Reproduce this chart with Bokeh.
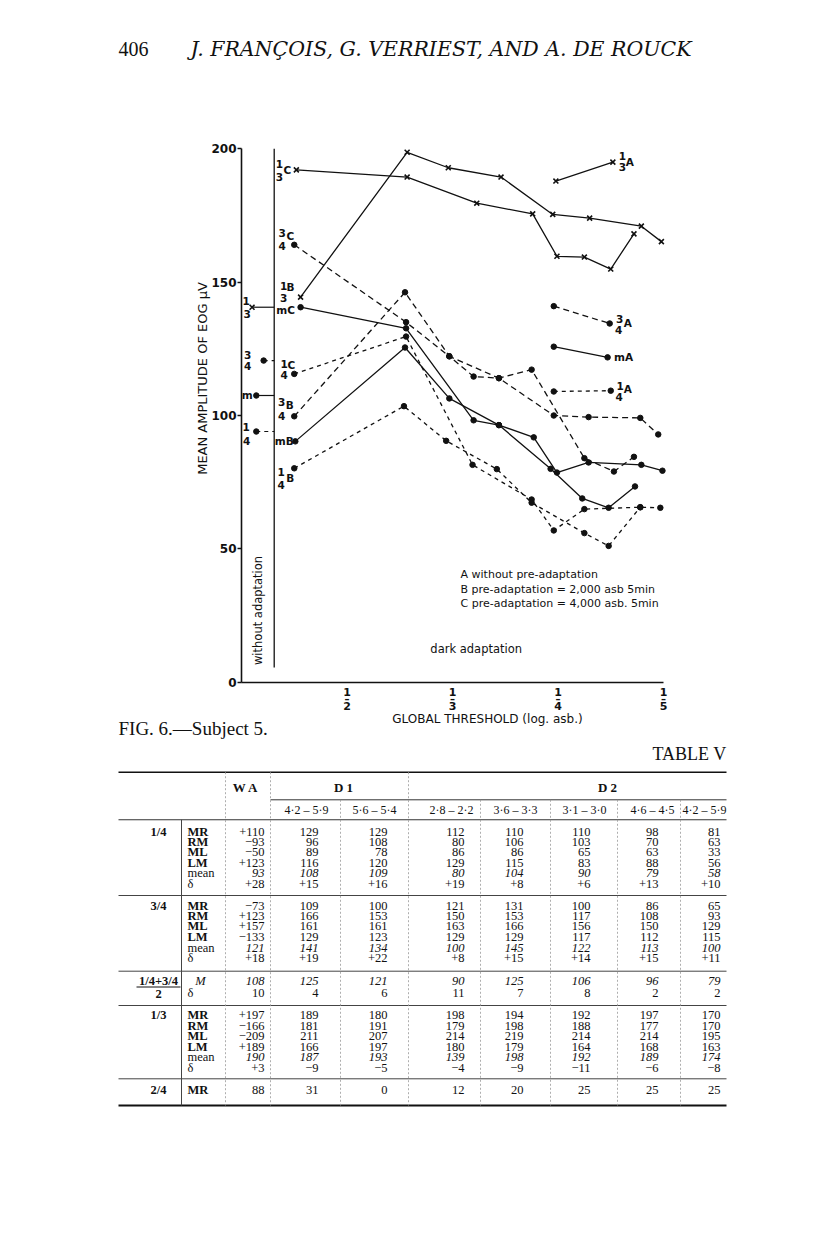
import math
from bokeh.plotting import figure
from bokeh.models import Range1d, LinearAxis, FixedTicker, ColumnDataSource
from bokeh.core.properties import value
from bokeh.embed import file_html
from bokeh.resources import INLINE

SANS = "DejaVu Sans"
SERIF = "Liberation Serif"
WSERIF = "DejaVu Serif"
INK = "#111111"

# ------------------------------------------------------------------ chart data
# x : global threshold (1/x log asb, axis 1..5), y : mean amplitude of EOG (microvolt)
x_13C = [1.52, 2.57, 3.23, 3.76, 3.99, 4.25, 4.50, 4.72]
y_13C = [192.1, 189.4, 179.6, 175.6, 159.7, 159.4, 154.9, 168.1]
x_13B = [1.56, 2.57, 2.96, 3.46, 3.95, 4.30, 4.79, 4.98]
y_13B = [144.4, 198.7, 192.9, 189.4, 175.4, 174.0, 171.0, 165.2]
x_13A = [3.98, 4.52]
y_13A = [187.9, 195.0]

x_34C = [1.50, 2.56, 2.97, 3.44, 3.96, 4.29, 4.78, 4.95]
y_34C = [164.0, 135.0, 122.2, 114.0, 100.0, 99.4, 99.1, 92.9]
x_mC = [1.56, 2.56, 3.20, 3.44, 3.77, 3.99, 4.29, 4.79, 4.99]
y_mC = [140.6, 132.7, 98.2, 96.4, 91.8, 78.6, 82.4, 81.5, 79.3]
x_14C = [1.50, 2.56, 3.19, 3.75, 3.96, 4.25, 4.78, 4.97]
y_14C = [115.6, 129.6, 81.5, 68.5, 56.9, 64.9, 65.6, 65.4]

x_34B = [1.50, 2.55, 2.97, 3.20, 3.44, 3.75, 4.25, 4.53, 4.72]
y_34B = [99.7, 146.2, 122.2, 114.6, 114.0, 117.2, 84.0, 79.0, 84.5]
x_mB = [1.51, 2.55, 2.97, 3.44, 3.93, 4.23, 4.48, 4.73]
y_mB = [90.3, 125.5, 106.4, 96.4, 80.0, 68.9, 65.4, 73.4]
x_14B = [1.50, 2.54, 2.94, 3.42, 3.75, 4.25, 4.48, 4.78]
y_14B = [80.2, 103.5, 90.5, 79.9, 67.3, 55.9, 51.1, 65.6]

x_34A = [3.96, 4.49]
y_34A = [141.0, 134.5]
x_mA = [3.96, 4.47]
y_mA = [125.8, 121.8]
x_14A = [3.96, 4.50]
y_14A = [109.0, 109.3]

# without adaptation: 1/3, 3/4, m, 1/4
wa_x = [1.10, 1.21, 1.14, 1.14]
wa_y = [140.6, 120.6, 107.5, 94.0]
divider_x = 1.31
divider_y = [5.5, 200]

y_ticks = [0, 50, 100, 150, 200]
x_ticks = [2, 3, 4, 5]
x_tick_dens = ["2", "3", "4", "5"]

legend_lines = ["A  without  pre-adaptation",
                "B  pre-adaptation = 2,000 asb  5min",
                "C  pre-adaptation = 4,000 asb. 5min"]

# ------------------------------------------------------------------ table data
sub_headers = ["4·2 – 5·9", "5·6 – 5·4", "2·8 – 2·2", "3·6 – 3·3", "3·1 – 3·0", "4·6 – 4·5", "4·2 – 5·9"]
row_names = ["MR", "RM", "ML", "LM", "mean", "δ"]
# columns: WA, D1 (2), D2 (5); rows MR RM ML LM mean delta
t14 = [["+110", "−93", "−50", "+123", "93", "+28"],
       ["129", "96", "89", "116", "108", "+15"],
       ["129", "108", "78", "120", "109", "+16"],
       ["112", "80", "86", "129", "80", "+19"],
       ["110", "106", "86", "115", "104", "+8"],
       ["110", "103", "65", "83", "90", "+6"],
       ["98", "70", "63", "88", "79", "+13"],
       ["81", "63", "33", "56", "58", "+10"]]
t34 = [["−73", "+123", "+157", "−133", "121", "+18"],
       ["109", "166", "161", "129", "141", "+19"],
       ["100", "153", "161", "123", "134", "+22"],
       ["121", "150", "163", "129", "100", "+8"],
       ["131", "153", "166", "129", "145", "+15"],
       ["100", "117", "156", "117", "122", "+14"],
       ["86", "108", "150", "112", "113", "+15"],
       ["65", "93", "129", "115", "100", "+11"]]
comb_M = ["108", "125", "121", "90", "125", "106", "96", "79"]
comb_d = ["10", "4", "6", "11", "7", "8", "2", "2"]
t13 = [["+197", "−166", "−209", "+189", "190", "+3"],
       ["189", "181", "211", "166", "187", "−9"],
       ["180", "191", "207", "197", "193", "−5"],
       ["198", "179", "214", "180", "139", "−4"],
       ["194", "198", "219", "179", "198", "−9"],
       ["192", "188", "214", "164", "192", "−11"],
       ["197", "177", "214", "168", "189", "−6"],
       ["170", "170", "195", "163", "174", "−8"]]
t24 = ["88", "31", "0", "12", "20", "25", "25", "25"]

# ------------------------------------------------------------------ page geometry
OX, OY = 0, 0            # page position of the canvas origin
W, H = 800, 1115
PXU, PYU = 105.5, 2.667  # pixels per x unit / per microvolt
X1_PAGE, Y0_PAGE = 241, 681.7
x_start = 1 - (X1_PAGE - OX) / PXU
y_end = (Y0_PAGE - OY) / PYU

p = figure(width=W, height=H,
           x_range=Range1d(x_start, x_start + W / PXU),
           y_range=Range1d(y_end - H / PYU, y_end),
           x_axis_type=None, y_axis_type=None,
           output_backend="svg", toolbar_location=None,
           min_border=0, min_border_left=0, min_border_right=0,
           min_border_top=0, min_border_bottom=0)
p.extra_x_ranges = {"px": Range1d(OX, OX + W)}
p.extra_y_ranges = {"py": Range1d(OY + H, OY)}
p.outline_line_color = None
p.xgrid.visible = False
p.ygrid.visible = False
p.background_fill_color = "white"
p.border_fill_color = "white"

yax = LinearAxis(fixed_location=1, bounds=(0, 200), ticker=FixedTicker(ticks=y_ticks))
yax.axis_line_width = 1.6
yax.axis_line_color = INK
yax.major_tick_out = 4
yax.major_tick_in = 0
yax.minor_tick_out = 0
yax.minor_tick_in = 0
yax.major_tick_line_width = 1.4
yax.major_tick_line_color = INK
yax.major_label_standoff = 1
yax.major_label_text_font = SANS
yax.major_label_text_font_size = "12px"
yax.major_label_text_font_style = "bold"
yax.major_label_text_color = INK
p.add_layout(yax, "left")

xax = LinearAxis(fixed_location=0, bounds=(1, 5), ticker=FixedTicker(ticks=x_ticks))
xax.axis_line_width = 1.6
xax.axis_line_color = INK
xax.major_tick_out = 0
xax.major_tick_in = 0
xax.minor_tick_out = 0
xax.minor_tick_in = 0
xax.major_label_overrides = {tk: "" for tk in x_ticks}
p.add_layout(xax, "below")

# without-adaptation divider
p.segment(x0=[divider_x], y0=[divider_y[0]], x1=[divider_x], y1=[divider_y[1]],
          line_color=INK, line_width=1.3)

SOLID = "solid"
D34 = "6 4"
D14 = "4 4"


def series(xs, ys, marker, dash):
    p.line(xs, ys, line_color=INK, line_width=1.3, line_dash=dash)
    if marker == "x":
        p.scatter(xs, ys, marker="x", size=7, line_color=INK, line_width=1.6)
    else:
        p.scatter(xs, ys, marker="circle", size=5.5, fill_color=INK, line_color=INK)


series(x_13C, y_13C, "x", SOLID)
series(x_13B, y_13B, "x", SOLID)
series(x_13A, y_13A, "x", SOLID)
series(x_34C, y_34C, "o", D34)
series(x_mC, y_mC, "o", SOLID)
series(x_14C, y_14C, "o", D14)
series(x_34B, y_34B, "o", D34)
series(x_mB, y_mB, "o", SOLID)
series(x_14B, y_14B, "o", D14)
series(x_34A, y_34A, "o", D34)
series(x_mA, y_mA, "o", SOLID)
series(x_14A, y_14A, "o", D14)

# without adaptation points with their short leaders to the divider
wa_marker = ["x", "o", "o", "o"]
wa_dash = [SOLID, D14, SOLID, D14]
for i in range(4):
    p.segment(x0=[wa_x[i]], y0=[wa_y[i]], x1=[divider_x], y1=[wa_y[i]],
              line_color=INK, line_width=1.2, line_dash=wa_dash[i])
    if wa_marker[i] == "x":
        p.scatter([wa_x[i]], [wa_y[i]], marker="x", size=7, line_color=INK, line_width=1.6)
    else:
        p.scatter([wa_x[i]], [wa_y[i]], marker="circle", size=5.5, fill_color=INK, line_color=INK)

# series labels: (text, anchor x, anchor y, dx px, dy px)
lab = [
    ("1", x_13C[0], y_13C[0], -17, -6), ("3", x_13C[0], y_13C[0], -17, 7.5), ("C", x_13C[0], y_13C[0], -9, 0),
    ("3", x_34C[0], y_34C[0], -12, -11.5), ("C", x_34C[0], y_34C[0], -4, -8.5), ("4", x_34C[0], y_34C[0], -12, 1),
    ("1", x_13B[0], y_13B[0], -17, -11), ("B", x_13B[0], y_13B[0], -10, -10), ("3", x_13B[0], y_13B[0], -17, 0.5),
    ("mC", x_mC[0], y_mC[0], -15, 3),
    ("1", x_14C[0], y_14C[0], -10, -10), ("C", x_14C[0], y_14C[0], -3, -9), ("4", x_14C[0], y_14C[0], -10, 1),
    ("3", x_34B[0], y_34B[0], -12.5, -14), ("B", x_34B[0], y_34B[0], -4.5, -11), ("4", x_34B[0], y_34B[0], -12.5, 0),
    ("mB", x_mB[0], y_mB[0], -11, 0),
    ("1", x_14B[0], y_14B[0], -13, 4), ("B", x_14B[0], y_14B[0], -4, 9.5), ("4", x_14B[0], y_14B[0], -13, 16.5),
    ("1", x_13A[-1], y_13A[-1], 9.5, -6.5), ("3", x_13A[-1], y_13A[-1], 9.5, 5), ("A", x_13A[-1], y_13A[-1], 17, 0),
    ("3", x_34A[-1], y_34A[-1], 10, -4), ("4", x_34A[-1], y_34A[-1], 9, 7), ("A", x_34A[-1], y_34A[-1], 18, 0),
    ("mA", x_mA[-1], y_mA[-1], 16, 0),
    ("1", x_14A[-1], y_14A[-1], 9.5, -4.5), ("4", x_14A[-1], y_14A[-1], 8.5, 6.5), ("A", x_14A[-1], y_14A[-1], 17, -2),
    ("1", wa_x[0], wa_y[0], -6, -6), ("3", wa_x[0], wa_y[0], -5, 6.5),
    ("3", wa_x[1], wa_y[1], -16, -6), ("4", wa_x[1], wa_y[1], -16, 5),
    ("m", wa_x[2], wa_y[2], -9, 0),
    ("1", wa_x[3], wa_y[3], -10, -4.5), ("4", wa_x[3], wa_y[3], -9.5, 9),
]
lab_src = ColumnDataSource(dict(
    text=[l[0] for l in lab], x=[l[1] for l in lab], y=[l[2] for l in lab],
    dx=[l[3] for l in lab], dy=[l[4] for l in lab]))
p.text(x="x", y="y", text="text", x_offset="dx", y_offset="dy", source=lab_src,
       text_align="center", text_baseline="middle", text_font=value(SANS),
       text_font_size="10.5px", text_font_style="bold", text_color=INK)

# legend and annotations inside the chart
p.text(x=[3.076] * 3, y=[40.4, 34.6, 29.5], text=legend_lines,
       text_font=value(SANS), text_font_size="11px", text_baseline="middle", text_color=INK)
p.text(x=[2.79], y=[12.5], text=["dark adaptation"],
       text_font=value(SANS), text_font_size="11.5px", text_baseline="middle", text_color=INK)
p.text(x=[1.161], y=[26.9], text=["without adaptation"], angle=math.pi / 2,
       text_font=value(SANS), text_font_size="11.5px", text_baseline="middle",
       text_align="center", text_color=INK)

# x tick labels as stacked fractions (1 over n)
n = len(x_ticks)
p.text(x=x_ticks, y=[0] * n, text=["1"] * n, y_offset=[9.5] * n, text_align="center",
       text_baseline="middle", text_font=value(SANS), text_font_size="11px",
       text_font_style="bold", text_color=INK)
p.text(x=x_ticks, y=[0] * n, text=["–"] * n, y_offset=[17] * n, text_align="center",
       text_baseline="middle", text_font=value(SANS), text_font_size="10px",
       text_font_style="bold", text_color=INK)
p.text(x=x_ticks, y=[0] * n, text=x_tick_dens, y_offset=[23.5] * n, text_align="center",
       text_baseline="middle", text_font=value(SANS), text_font_size="11px",
       text_font_style="bold", text_color=INK)

# axis titles, page header and caption (page coordinates)
pg = dict(x_range_name="px", y_range_name="py")
p.text(x=[487], y=[718], text=["GLOBAL THRESHOLD (log. asb.)"], text_align="center",
       text_baseline="middle", text_font=value(SANS), text_font_size="12px",
       text_color=INK, **pg)
p.text(x=[202], y=[378], text=["MEAN AMPLITUDE OF EOG μV"], angle=math.pi / 2,
       text_align="center", text_baseline="middle", text_font=value(SANS),
       text_font_size="13px", text_color=INK, **pg)
p.text(x=[118], y=[48], text=["406"], text_align="left", text_baseline="middle",
       text_font=value(SERIF), text_font_size="20px", text_color=INK, **pg)
p.text(x=[190], y=[48], text=["J. FRANÇOIS, G. VERRIEST, AND A. DE ROUCK"],
       text_align="left", text_baseline="middle", text_font=value(WSERIF),
       text_font_size="20.5px", text_font_style="italic", text_color=INK, **pg)
p.text(x=[118], y=[728], text=["FIG. 6.—Subject 5."], text_align="left",
       text_baseline="middle", text_font=value(SERIF), text_font_size="19px",
       text_color=INK, **pg)

# ------------------------------------------------------------------ table (page coordinates)
TL, TR = 118, 726
col_right = [264, 318, 387, 464, 523, 590, 658, 720]
sub_cx = [306, 374, 451, 515, 584, 652, 704]
rows14 = [831, 841.3, 851.7, 862, 872.3, 883]
rows34 = [905, 915.3, 925.7, 936.3, 947, 957.7]
rowsC = [980, 992]
rows13 = [1014.3, 1025, 1035.3, 1046, 1056.7, 1067.3]
rows24 = [1089.3]
FS = "12.5px"

p.text(x=[TR], y=[753], text=["TABLE V"], text_align="right", text_baseline="middle",
       text_font=value(SERIF), text_font_size="18px", text_color=INK, **pg)

# rules
p.segment(x0=[TL], y0=[771.7], x1=[TR], y1=[771.7], line_color=INK, line_width=1.4, **pg)
p.segment(x0=[270], y0=[799.3], x1=[TR], y1=[799.3], line_color="#333333", line_width=1, **pg)
p.segment(x0=[TL], y0=[819.3], x1=[TR], y1=[819.3], line_color="#333333", line_width=1.1, **pg)
hr = [895, 970.7, 1005, 1078.3]
p.segment(x0=[TL] * 4, y0=hr, x1=[TR] * 4, y1=hr, line_color="#444444", line_width=1, **pg)
p.segment(x0=[TL], y0=[1105], x1=[TR], y1=[1105], line_color=INK, line_width=2.2, **pg)
p.segment(x0=[181], y0=[819.3], x1=[181], y1=[1105], line_color="#444444", line_width=1, **pg)
vx = [225, 270, 340, 408, 480, 550, 617, 680]
vy0 = [771.7, 771.7, 799.3, 771.7, 799.3, 799.3, 799.3, 799.3]
p.segment(x0=vx, y0=vy0, x1=vx, y1=[1105] * len(vx), line_color="#999999",
          line_width=0.8, line_dash="2 2", **pg)

# headers
p.text(x=[245, 343, 607], y=[786.7] * 3, text=["W A", "D 1", "D 2"], text_align="center",
       text_baseline="middle", text_font=value(SERIF), text_font_size="13px",
       text_font_style="bold", text_color=INK, **pg)
p.text(x=sub_cx, y=[809.3] * len(sub_cx), text=sub_headers, text_align="center",
       text_baseline="middle", text_font=value(SERIF), text_font_size="12px",
       text_color=INK, **pg)

# group labels
p.text(x=[158, 158, 158, 158], y=[rows14[0], rows34[0], rows13[0], rows24[0]],
       text=["1/4", "3/4", "1/3", "2/4"], text_align="center", text_baseline="middle",
       text_font=value(SERIF), text_font_size=FS, text_font_style="bold",
       text_color=INK, **pg)
p.text(x=[158, 158], y=[rowsC[0], 993], text=["1/4+3/4", "2"], text_align="center",
       text_baseline="middle", text_font=value(SERIF), text_font_size=FS,
       text_font_style="bold", text_color=INK, **pg)
p.segment(x0=[136], y0=[986.5], x1=[180], y1=[986.5], line_color=INK, line_width=1, **pg)

# row labels
bold_rows = dict(x=[], y=[], text=[])
plain_rows = dict(x=[], y=[], text=[])
for ys in [rows14, rows34, rows13]:
    for name, yy in zip(row_names, ys):
        d = bold_rows if name in ("MR", "RM", "ML", "LM") else plain_rows
        d["x"].append(187)
        d["y"].append(yy)
        d["text"].append(name)
bold_rows["x"].append(187)
bold_rows["y"].append(rows24[0])
bold_rows["text"].append("MR")
plain_rows["x"].append(187)
plain_rows["y"].append(rowsC[1])
plain_rows["text"].append("δ")
p.text(x="x", y="y", text="text", source=ColumnDataSource(bold_rows), text_align="left",
       text_baseline="middle", text_font=value(SERIF), text_font_size=FS,
       text_font_style="bold", text_color=INK, **pg)
p.text(x="x", y="y", text="text", source=ColumnDataSource(plain_rows), text_align="left",
       text_baseline="middle", text_font=value(SERIF), text_font_size=FS,
       text_color=INK, **pg)
p.text(x=[200], y=[rowsC[0]], text=["M"], text_align="center", text_baseline="middle",
       text_font=value(SERIF), text_font_size=FS, text_font_style="italic",
       text_color=INK, **pg)

# cell values
norm = dict(x=[], y=[], text=[])
ital = dict(x=[], y=[], text=[])
for grp, ys in [(t14, rows14), (t34, rows34), (t13, rows13)]:
    for ci, colvals in enumerate(grp):
        for ri, v in enumerate(colvals):
            d = ital if ri == 4 else norm
            d["x"].append(col_right[ci])
            d["y"].append(ys[ri])
            d["text"].append(v)
for ci in range(8):
    ital["x"].append(col_right[ci])
    ital["y"].append(rowsC[0])
    ital["text"].append(comb_M[ci])
    norm["x"].append(col_right[ci])
    norm["y"].append(rowsC[1])
    norm["text"].append(comb_d[ci])
    norm["x"].append(col_right[ci])
    norm["y"].append(rows24[0])
    norm["text"].append(t24[ci])
p.text(x="x", y="y", text="text", source=ColumnDataSource(norm), text_align="right",
       text_baseline="middle", text_font=value(SERIF), text_font_size=FS,
       text_color=INK, **pg)
p.text(x="x", y="y", text="text", source=ColumnDataSource(ital), text_align="right",
       text_baseline="middle", text_font=value(SERIF), text_font_size=FS,
       text_font_style="italic", text_color=INK, **pg)

open("out.html", "w").write(file_html(p, INLINE))
